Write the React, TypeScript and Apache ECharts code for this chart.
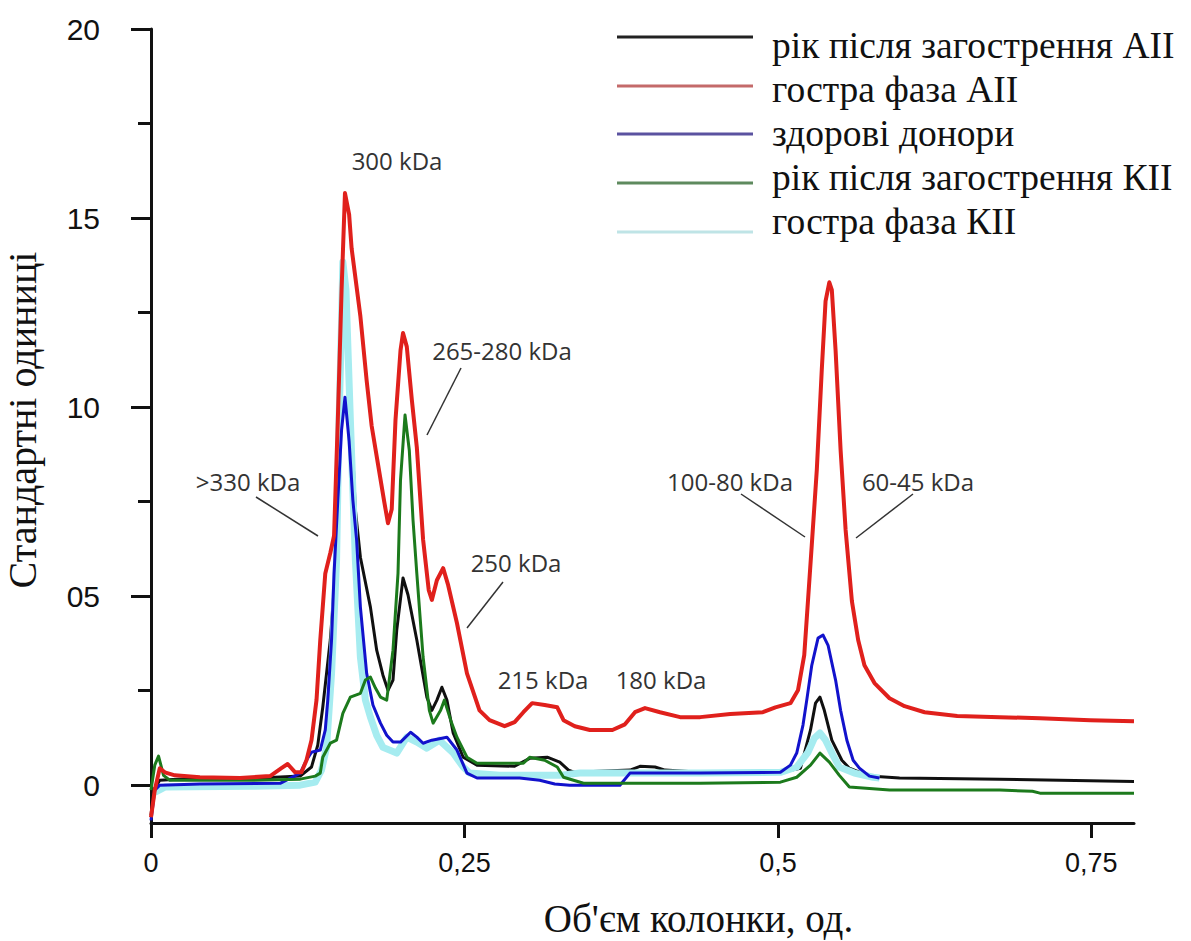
import React, { useEffect, useRef } from "react";
import * as echarts from "echarts";

// ---- data (x: column volume, y: standard units) ----
const seriesNames = [
  "рік після загострення АІІ",
  "гостра фаза АІІ",
  "здорові донори",
  "рік після загострення КІІ",
  "гостра фаза КІІ",
];

const blackData: [number, number][] = [
  [0, -0.8], [0.002, -0.13], [0.007, 0.13], [0.039, 0.19], [0.087, 0.19], [0.119, 0.24],
  [0.128, 0.48], [0.133, 1.06], [0.137, 2.06], [0.143, 3.84], [0.147, 5.6], [0.15, 8.86],
  [0.152, 11.8], [0.1547, 13.15], [0.157, 12.0], [0.16, 9.4], [0.163, 7.28], [0.167, 6.03],
  [0.175, 4.71], [0.18, 3.57], [0.185, 2.91], [0.189, 2.51], [0.193, 2.78], [0.196, 4.1],
  [0.201, 5.48], [0.205, 5.03], [0.212, 3.84], [0.22, 2.33], [0.224, 1.98], [0.228, 2.25],
  [0.232, 2.59], [0.236, 2.25], [0.241, 1.38], [0.249, 0.74], [0.26, 0.53], [0.29, 0.5],
  [0.302, 0.71], [0.316, 0.74], [0.326, 0.61], [0.333, 0.4], [0.338, 0.34], [0.382, 0.4],
  [0.39, 0.5], [0.402, 0.48], [0.41, 0.4], [0.438, 0.34], [0.502, 0.34], [0.518, 0.45],
  [0.526, 1.46], [0.53, 2.17], [0.5335, 2.33], [0.537, 1.98], [0.543, 1.19], [0.551, 0.66],
  [0.557, 0.45], [0.573, 0.24], [0.597, 0.19], [0.677, 0.16], [0.784, 0.1],
];

const redData: [number, number][] = [
  [0, -0.85], [0.003, -0.13], [0.007, 0.45], [0.011, 0.34], [0.019, 0.26], [0.039, 0.21],
  [0.071, 0.19], [0.095, 0.24], [0.104, 0.45], [0.109, 0.56], [0.115, 0.34], [0.12, 0.34],
  [0.124, 0.66], [0.128, 1.19], [0.132, 2.25], [0.135, 3.84], [0.139, 5.6], [0.143, 6.14],
  [0.146, 6.6], [0.149, 9.66], [0.152, 13.1], [0.1547, 15.66], [0.158, 15.1], [0.16, 14.2],
  [0.167, 12.4], [0.172, 10.7], [0.176, 9.5], [0.181, 8.5], [0.186, 7.5], [0.189, 6.93],
  [0.192, 7.3], [0.195, 9.66], [0.199, 11.5], [0.201, 11.96], [0.204, 11.6], [0.208, 10.2],
  [0.212, 8.94], [0.217, 6.5], [0.2215, 5.16], [0.224, 4.9], [0.228, 5.42], [0.233, 5.74],
  [0.237, 5.29], [0.244, 4.29], [0.252, 2.96], [0.262, 1.98], [0.27, 1.72], [0.282, 1.56],
  [0.29, 1.67], [0.297, 1.93], [0.304, 2.17], [0.314, 2.12], [0.324, 2.06], [0.329, 1.72],
  [0.338, 1.56], [0.35, 1.46], [0.368, 1.46], [0.378, 1.61], [0.386, 1.93], [0.394, 2.04],
  [0.406, 1.93], [0.422, 1.8], [0.438, 1.8], [0.462, 1.88], [0.488, 1.93], [0.498, 2.06],
  [0.51, 2.17], [0.516, 2.51], [0.521, 3.44], [0.524, 4.89], [0.527, 6.35], [0.531, 8.33],
  [0.535, 11.0], [0.538, 12.8], [0.541, 13.3], [0.543, 13.1], [0.546, 11.5], [0.55, 8.86],
  [0.554, 6.75], [0.559, 4.87], [0.564, 3.84], [0.569, 3.17], [0.577, 2.7], [0.589, 2.3],
  [0.601, 2.09], [0.617, 1.93], [0.643, 1.83], [0.677, 1.8], [0.709, 1.77], [0.749, 1.72],
  [0.784, 1.69],
];

const blueData: [number, number][] = [
  [0, -0.93], [0.003, -0.13], [0.007, 0], [0.039, 0.03], [0.103, 0.05], [0.119, 0.32],
  [0.124, 0.66], [0.128, 0.87], [0.135, 0.93], [0.139, 1.46], [0.141, 2.25], [0.144, 3.84],
  [0.146, 5.6], [0.149, 7.54], [0.152, 9.4], [0.1547, 10.26], [0.158, 9.1], [0.161, 7.54],
  [0.164, 6.48], [0.167, 4.71], [0.172, 2.96], [0.177, 2.12], [0.183, 1.64], [0.188, 1.32],
  [0.193, 1.14], [0.199, 1.14], [0.207, 1.4], [0.212, 1.27], [0.217, 1.11], [0.224, 1.19],
  [0.236, 1.27], [0.244, 0.93], [0.252, 0.32], [0.26, 0.19], [0.294, 0.19], [0.31, 0.13],
  [0.322, 0.03], [0.334, 0], [0.374, 0], [0.382, 0.32], [0.438, 0.32], [0.502, 0.34],
  [0.51, 0.53], [0.515, 0.85], [0.52, 1.59], [0.523, 2.25], [0.527, 3.17], [0.532, 3.89],
  [0.536, 3.97], [0.54, 3.7], [0.546, 2.78], [0.55, 1.98], [0.555, 1.19], [0.56, 0.66],
  [0.565, 0.45], [0.573, 0.24], [0.581, 0.19],
];

const greenData: [number, number][] = [
  [0, -0.13], [0.003, 0.53], [0.006, 0.77], [0.01, 0.26], [0.015, 0.13], [0.079, 0.13],
  [0.119, 0.16], [0.131, 0.24], [0.135, 0.32], [0.137, 0.74], [0.143, 1.11], [0.148, 1.19],
  [0.153, 1.9], [0.159, 2.33], [0.167, 2.43], [0.171, 2.78], [0.175, 2.86], [0.179, 2.57],
  [0.183, 2.33], [0.188, 2.25], [0.193, 3.57], [0.197, 5.6], [0.199, 8.07], [0.2026, 9.79],
  [0.206, 8.86], [0.209, 7.0], [0.212, 5.6], [0.217, 3.39], [0.222, 1.98], [0.225, 1.64],
  [0.231, 1.98], [0.234, 2.25], [0.239, 1.72], [0.244, 1.27], [0.252, 0.74], [0.26, 0.58],
  [0.297, 0.58], [0.302, 0.74], [0.314, 0.66], [0.324, 0.48], [0.329, 0.21], [0.345, 0.05],
  [0.438, 0.05], [0.502, 0.08], [0.515, 0.21], [0.526, 0.53], [0.5335, 0.85], [0.541, 0.61],
  [0.549, 0.26], [0.557, -0.05], [0.589, -0.13], [0.677, -0.13], [0.703, -0.16],
  [0.709, -0.21], [0.784, -0.21],
];

const cyanData: [number, number][] = [
  [0.003, -0.19], [0.011, -0.05], [0.079, -0.03], [0.119, 0], [0.131, 0.08], [0.136, 0.4],
  [0.14, 1.0], [0.144, 2.96], [0.148, 5.95], [0.15, 9.66], [0.152, 12.3], [0.153, 13.84],
  [0.1555, 13.1], [0.159, 9.66], [0.163, 5.95], [0.167, 3.39], [0.171, 2.25], [0.175, 1.8],
  [0.18, 1.32], [0.185, 1.0], [0.196, 0.85], [0.2, 1.06], [0.204, 1.27], [0.212, 1.14],
  [0.22, 0.98], [0.23, 1.19], [0.241, 0.85], [0.249, 0.48], [0.254, 0.32], [0.278, 0.26],
  [0.326, 0.26], [0.342, 0.32], [0.438, 0.32], [0.502, 0.34], [0.515, 0.48], [0.524, 0.87],
  [0.529, 1.24], [0.5335, 1.38], [0.538, 1.19], [0.544, 0.79], [0.549, 0.48], [0.561, 0.32],
  [0.576, 0.21], [0.581, 0.19],
];

const xTicks = [0, 0.25, 0.5, 0.75];
const yMajorTicks = [0, 5, 10, 15, 20];
const yMinorTicks = [2.5, 7.5, 12.5, 17.5];
const yTickLabels: Record<number, string> = { 0: "0", 5: "05", 10: "10", 15: "15", 20: "20" };
const xTickLabels: Record<number, string> = { 0: "0", 0.25: "0,25", 0.5: "0,5", 0.75: "0,75" };

const annotations = [
  { text: "300 kDa", x: 397, y: 160 },
  { text: ">330 kDa", x: 248, y: 481 },
  { text: "265-280 kDa", x: 502, y: 350 },
  { text: "250 kDa", x: 516, y: 562 },
  { text: "215 kDa", x: 543, y: 679 },
  { text: "180 kDa", x: 661, y: 679 },
  { text: "100-80 kDa", x: 730, y: 481 },
  { text: "60-45 kDa", x: 918, y: 481 },
];
const leaders = [
  [256, 497, 318, 536],
  [461, 368, 427, 435],
  [503, 582, 467, 628],
  [741, 494, 805, 537],
  [913, 494, 856, 538],
];

const lineColors = ["#101010", "#e0201c", "#1212cc", "#1c7a1c", "#a6ecf0"];
const lineWidths = [3, 4, 3, 3, 7];
const legendColors = ["#222222", "#c46a6a", "#5b52a0", "#5e8a5e", "#bfe4e6"];
const legendLineY = [37, 86, 134, 183, 232];
const legendTextY = [45, 89, 133, 177, 221];

export default function App() {
  const ref = useRef<HTMLDivElement>(null);
  useEffect(() => {
    if (!ref.current) return;
    const chart = echarts.init(ref.current, null, { renderer: "svg" });
    const datasets = [blackData, redData, blueData, greenData, cyanData];
    const drawOrder = [0, 4, 2, 3, 1];
    const series = drawOrder.map((i, k) => ({
      type: "line" as const,
      name: seriesNames[i],
      data: datasets[i],
      showSymbol: false,
      symbol: "none",
      z: 2 + k,
      lineStyle: { color: lineColors[i], width: lineWidths[i], join: "round" },
      itemStyle: { color: lineColors[i] },
    }));

    const graphic: any[] = [];
    annotations.forEach((a) =>
      graphic.push({
        type: "text",
        x: a.x,
        y: a.y,
        style: {
          text: a.text,
          fontFamily: "Open Sans",
          fontSize: 24,
          fill: "#333333",
          align: "center",
          verticalAlign: "middle",
        },
      })
    );
    leaders.forEach((l) =>
      graphic.push({
        type: "line",
        shape: { x1: l[0], y1: l[1], x2: l[2], y2: l[3] },
        style: { stroke: "#333333", lineWidth: 1.5 },
      })
    );
    seriesNames.forEach((n, i) => {
      graphic.push({
        type: "line",
        shape: { x1: 617, y1: legendLineY[i], x2: 753, y2: legendLineY[i] },
        style: { stroke: legendColors[i], lineWidth: 3 },
      });
      graphic.push({
        type: "text",
        x: 772,
        y: legendTextY[i],
        style: {
          text: n,
          fontFamily: "Liberation Serif",
          fontSize: 37.5,
          fill: "#111111",
          align: "left",
          verticalAlign: "middle",
        },
      });
    });

    chart.setOption({
      animation: false,
      backgroundColor: "#ffffff",
      grid: {
        left: 151,
        right: 57,
        top: 29,
        bottom: 118,
        containLabel: false,
        outerBoundsMode: "none",
      },
      xAxis: {
        type: "value",
        min: 0,
        max: 0.784,
        name: "Об'єм колонки, од.",
        nameLocation: "middle",
        nameGap: 76,
        nameTextStyle: {
          fontFamily: "Liberation Serif",
          fontSize: 39,
          color: "#111111",
          padding: [0, 0, 0, 112],
        },
        axisLine: { show: true, onZero: false, lineStyle: { color: "#111111", width: 3 } },
        axisTick: { show: true, customValues: xTicks, length: 15, lineStyle: { color: "#111111", width: 3 } },
        axisLabel: {
          customValues: xTicks,
          formatter: (v: number) => xTickLabels[v] ?? String(v),
          fontFamily: "Liberation Sans",
          fontSize: 27,
          color: "#111111",
          margin: 26,
        },
        splitLine: { show: false },
      },
      yAxis: [
        {
          type: "value",
          min: -1,
          max: 20,
          name: "Стандартні одиниці",
          nameLocation: "middle",
          nameGap: 109,
          nameRotate: 90,
          nameTextStyle: {
            fontFamily: "Liberation Serif",
            fontSize: 40,
            color: "#111111",
            padding: [0, 0, 0, 12],
          },
          axisLine: { show: true, onZero: false, lineStyle: { color: "#111111", width: 3 } },
          axisTick: { show: true, customValues: yMajorTicks, length: 20, lineStyle: { color: "#111111", width: 3 } },
          axisLabel: {
            customValues: yMajorTicks,
            formatter: (v: number) => yTickLabels[v] ?? String(v),
            fontFamily: "Liberation Sans",
            fontSize: 30,
            color: "#111111",
            margin: 51,
          },
          splitLine: { show: false },
        },
        {
          type: "value",
          min: -1,
          max: 20,
          position: "left",
          axisLine: { show: false, onZero: false },
          axisTick: { show: true, customValues: yMinorTicks, length: 13, lineStyle: { color: "#111111", width: 3 } },
          axisLabel: { show: false },
          splitLine: { show: false },
        },
      ],
      series,
      graphic,
    });
    return () => chart.dispose();
  }, []);
  return (
    <div
      ref={ref}
      style={{ position: "fixed", left: 0, top: 0, width: 1191, height: 941, background: "#fff" }}
    />
  );
}
